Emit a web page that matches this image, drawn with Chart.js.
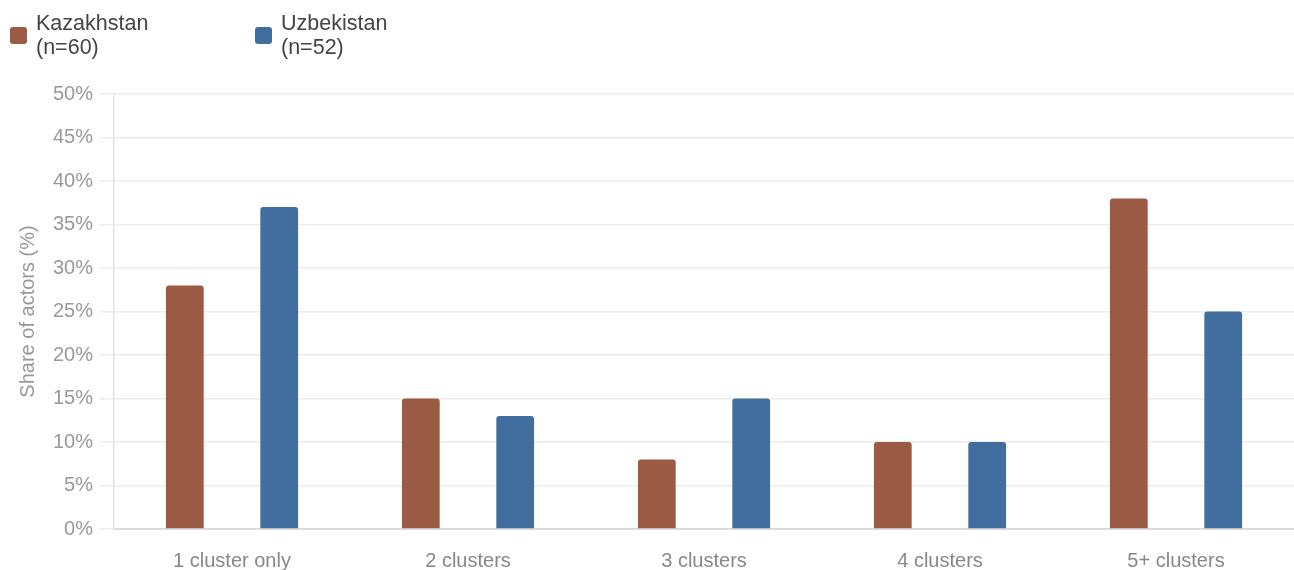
<!DOCTYPE html>
<html>
<head>
<meta charset="utf-8">
<script src="https://cdn.jsdelivr.net/npm/chart.js@4"></script>
<style>
  html, body { margin: 0; padding: 0; background: #fff; }
  #wrap { position: relative; width: 1294px; height: 570px; }
  #legend { position: absolute; left: 0; top: 0; font-family: "Liberation Sans", Arial, sans-serif; font-size: 21.5px; line-height: 24px; color: #444; }
  .item { position: absolute; top: 11px; white-space: nowrap; }
  .box { position: absolute; top: 27px; width: 17px; height: 17px; border-radius: 3px; }
  canvas { position: absolute; left: 0; top: 0; }
</style>
</head>
<body>
<div id="wrap">
  <canvas id="chart" width="1294" height="570"></canvas>
  <div id="legend"></div>
</div>
<script>
// Share of actors by number of clusters they are active in
const categories = ["1 cluster only", "2 clusters", "3 clusters", "4 clusters", "5+ clusters"];
const seriesNames = [["Kazakhstan", "(n=60)"], ["Uzbekistan", "(n=52)"]];
const kazakhstan = [28, 15, 8, 10, 38];
const uzbekistan = [37, 13, 15, 10, 25];
const yTicks = [0, 5, 10, 15, 20, 25, 30, 35, 40, 45, 50];
const colors = ["#9b5a43", "#416e9f"];

const fontFamily = '"Liberation Sans", Arial, sans-serif';

const chart = new Chart(document.getElementById("chart"), {
  type: "bar",
  data: {
    labels: categories,
    datasets: [
      { label: seriesNames[0].join(" "), data: kazakhstan, backgroundColor: colors[0] },
      { label: seriesNames[1].join(" "), data: uzbekistan, backgroundColor: colors[1] }
    ]
  },
  options: {
    responsive: false,
    animation: false,
    devicePixelRatio: 1,
    layout: { padding: { top: 94, right: 0, left: 0, bottom: 0 } },
    datasets: { bar: { categoryPercentage: 0.8, barPercentage: 0.4, borderRadius: { topLeft: 3, topRight: 3 }, borderSkipped: "bottom" } },
    plugins: { legend: { display: false }, tooltip: { enabled: false } },
    scales: {
      x: {
        afterFit: (axis) => { axis.height = 41; },
        grid: { display: false },
        border: { display: true, color: "#dcdcdc", width: 2 },
        ticks: { color: "#888", font: { family: fontFamily, size: 20 }, padding: 12 }
      },
      y: {
        min: 0, max: 50,
        afterFit: (axis) => { axis.width = 114; },
        afterBuildTicks: (axis) => { axis.ticks = yTicks.map(v => ({ value: v })); },
        grid: { color: "#ececec", lineWidth: 1.5, tickLength: 14, drawTicks: true },
        border: { display: true, color: "#e3e3e3", width: 1.5 },
        ticks: { color: "#999", font: { family: fontFamily, size: 20 }, padding: 7, callback: v => v + "%" },
        title: { display: true, text: "Share of actors (%)", color: "#999", font: { family: fontFamily, size: 20 }, padding: { top: 16, bottom: 0 } }
      }
    }
  }
});

// Two-line legend placed above the plot
const legend = document.getElementById("legend");
const legendX = [10, 255];
seriesNames.forEach((name, i) => {
  const box = document.createElement("div");
  box.className = "box";
  box.style.left = legendX[i] + "px";
  box.style.background = colors[i];
  legend.appendChild(box);
  const item = document.createElement("div");
  item.className = "item";
  item.style.left = (legendX[i] + 26) + "px";
  item.innerHTML = name.join("<br>");
  legend.appendChild(item);
});
</script>
</body>
</html>
